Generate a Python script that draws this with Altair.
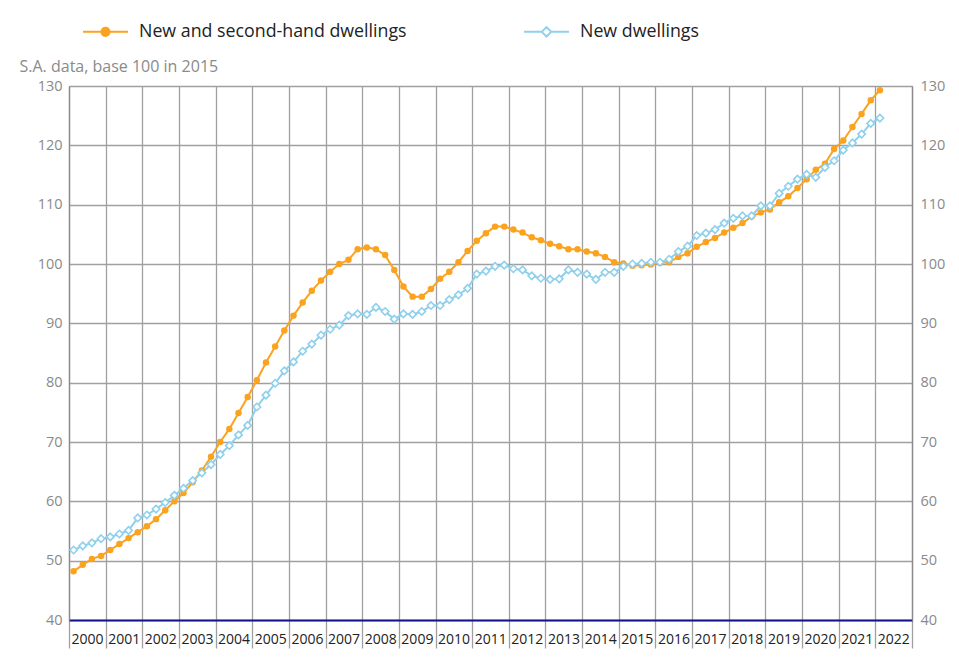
import altair as alt
import pandas as pd

series_names = ["New and second-hand dwellings", "New dwellings"]
years = list(range(2000, 2023))

# quarterly values, 2000Q1 .. 2022Q1 (S.A. data, base 100 in 2015)
new_and_second_hand = [
    48.2, 49.3, 50.3, 50.8,
    51.8, 52.8, 53.8, 54.8,
    55.8, 57.0, 58.5, 60.0,
    61.4, 63.2, 65.2, 67.5,
    70.0, 72.2, 74.9, 77.6,
    80.4, 83.4, 86.1, 88.8,
    91.3, 93.5, 95.5, 97.2,
    98.7, 100.0, 100.7, 102.5,
    102.8, 102.5, 101.5, 99.0,
    96.2, 94.5, 94.5, 95.8,
    97.5, 98.7, 100.3, 102.2,
    103.9, 105.2, 106.3, 106.3,
    105.8, 105.3, 104.5, 104.0,
    103.4, 103.0, 102.5, 102.5,
    102.1, 101.8, 101.2, 100.3,
    100.1, 99.7, 99.8, 99.9,
    100.2, 100.3, 101.2, 101.8,
    102.9, 103.7, 104.4, 105.3,
    106.1, 106.9, 108.0, 108.7,
    109.2, 110.4, 111.4, 112.8,
    114.3, 115.9, 116.9, 119.4,
    120.8, 123.1, 125.3, 127.6,
    129.3,
]
new_dwellings = [
    51.8, 52.5, 53.0, 53.7,
    54.0, 54.5, 55.1, 57.2,
    57.7, 58.7, 59.8, 61.0,
    62.2, 63.5, 64.8, 66.2,
    67.9, 69.4, 71.2, 72.8,
    75.9, 77.9, 79.9, 82.0,
    83.5, 85.3, 86.5, 88.0,
    89.0, 89.7, 91.3, 91.6,
    91.5, 92.7, 92.0, 90.7,
    91.6, 91.5, 92.0, 93.0,
    93.0, 94.0, 94.8, 95.9,
    98.3, 98.8, 99.6, 99.8,
    99.2, 99.0, 98.0, 97.6,
    97.4, 97.5, 99.0, 98.6,
    98.3, 97.4, 98.6, 98.6,
    99.6, 100.0, 100.1, 100.3,
    100.3, 100.8, 102.1, 103.0,
    104.8, 105.2, 105.8, 106.9,
    107.7, 108.1, 108.1, 109.8,
    109.8, 111.9, 113.1, 114.3,
    115.1, 114.6, 116.3, 117.4,
    119.2, 120.4, 121.9, 123.7,
    124.6,
]
y_ticks = list(range(40, 131, 10))
x_bounds = list(range(2000, 2024))

ORANGE = "#FBA31F"
BLUE = "#8FD0EC"
GRID = "#a0a0a0"
FONT = "Open Sans"

rows = []
for name, vals in zip(series_names, [new_and_second_hand, new_dwellings]):
    for i, v in enumerate(vals):
        year = 2000 + i // 4
        q = i % 4 + 1
        rows.append({"series": name, "t": year + (q - 0.5) / 4, "v": v})
df = pd.DataFrame(rows)

xscale = alt.Scale(domain=[2000, 2023], nice=False, zero=False)
yscale = alt.Scale(domain=[40, 130], nice=False, zero=False)

x_axis = alt.Axis(
    values=x_bounds, grid=True, gridColor=GRID, gridWidth=1.3,
    ticks=True, tickSize=28, tickColor=GRID, tickWidth=1.3,
    domainColor="#14148c", domainWidth=2,
    labelAlign="left", labelBaseline="top", labelPadding=-16, labelOffset=2,
    labelExpr="datum.value >= 2023 ? '' : toString(datum.value)",
    labelFontSize=14, labelColor="#222222", labelFont=FONT,
    labelOverlap=False, labelFlush=False, title=None, zindex=0,
)
y_left = alt.Axis(
    values=y_ticks, grid=True, gridColor=GRID, gridWidth=1.3,
    ticks=False, domainColor="#8a8a8a", domainWidth=1.3,
    labelFontSize=14.5, labelColor="#8a8a8a", labelFont=FONT, labelPadding=7,
    title="S.A. data, base 100 in 2015", titleAngle=0, titleX=-50, titleY=-15,
    titleAlign="left", titleBaseline="alphabetic", titleFontSize=16,
    titleFontWeight="normal", titleColor="#8a8a8a", titleFont=FONT,
)
y_right = alt.Axis(
    values=y_ticks, grid=False, orient="right",
    ticks=False, domainColor="#8a8a8a", domainWidth=1.3,
    labelFontSize=14.5, labelColor="#8a8a8a", labelFont=FONT, labelPadding=8,
    title=None,
)

orange_path = "M-1,0L1,0M-0.18,0a0.18,0.18 0 1,0 0.36,0a0.18,0.18 0 1,0 -0.36,0Z"
blue_path = "M-1,0L-0.21,0M0.21,0L1,0M-0.21,0L0,-0.21L0.21,0L0,0.21Z"

legend = alt.Legend(
    title=None, orient="none", legendX=13, legendY=-78, direction="horizontal",
    symbolType={"expr": f"datum.value == 'New dwellings' ? '{blue_path}' : '{orange_path}'"},
    symbolFillColor={"expr": f"datum.value == 'New dwellings' ? '#ffffff' : '{ORANGE}'"},
    symbolSize=2025, symbolStrokeWidth=2, symbolOpacity=1,
    labelFontSize=17.8, labelFont=FONT, labelColor="#222222", labelOffset=10,
    labelLimit=600, columnPadding=113, padding=0,
)

X = alt.X("t:Q", scale=xscale, axis=x_axis)

lines = alt.Chart(df).mark_line(strokeWidth=2).encode(
    x=X,
    y=alt.Y("v:Q", scale=yscale, axis=y_left),
    color=alt.Color("series:N", scale=alt.Scale(domain=series_names, range=[ORANGE, BLUE]),
                    legend=legend),
    order=alt.Order("t:Q"),
)
orange_pts = alt.Chart(df).transform_filter(alt.datum.series == series_names[0]).mark_point(
    shape="circle", filled=True, size=42, color=ORANGE, opacity=1
).encode(x=X, y=alt.Y("v:Q", scale=yscale, axis=None))
blue_pts = alt.Chart(df).transform_filter(alt.datum.series == series_names[1]).mark_point(
    shape="diamond", filled=True, fill="white", stroke=BLUE, strokeWidth=1.6, size=55, opacity=1
).encode(x=X, y=alt.Y("v:Q", scale=yscale, axis=None))
right_axis = alt.Chart(df).mark_point(opacity=0).encode(
    x=X,
    y=alt.Y("v:Q", scale=yscale, axis=y_right),
)

chart = alt.layer(lines, orange_pts, blue_pts, right_axis).resolve_axis(
    y="independent"
).resolve_scale(y="shared").properties(
    width=843, height=534,
    autosize=alt.AutoSizeParams(type="none"),
    padding={"left": 61, "top": 78, "right": 39, "bottom": 42},
).configure_view(stroke=None).configure(font=FONT)

chart.save("out.html", embed_options={"renderer": "svg", "actions": False})
